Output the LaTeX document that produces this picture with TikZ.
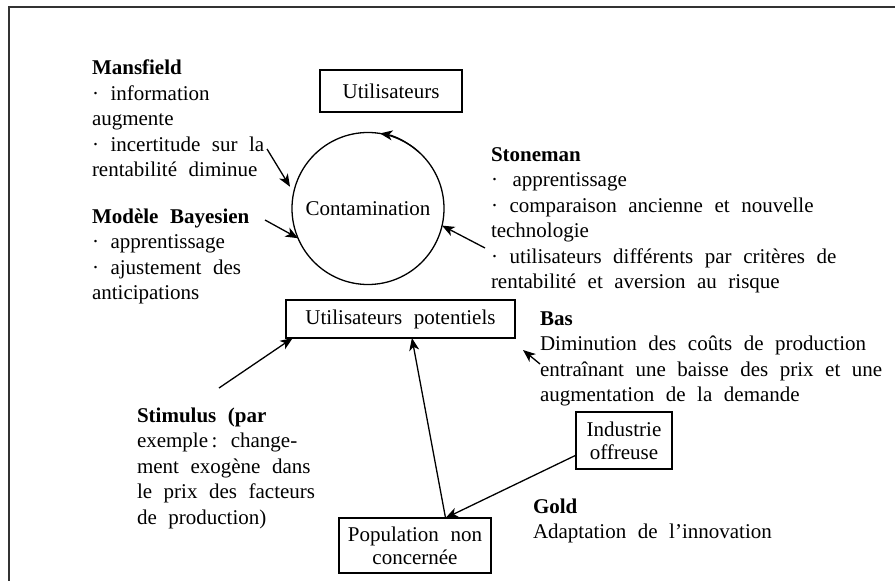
\documentclass[tikz,border=0pt]{standalone}
\usepackage{fontspec}
\setmainfont{Liberation Serif}[WordSpace=2.2]
\usetikzlibrary{arrows.meta,calc}
\begin{document}
\begin{tikzpicture}[x=1pt,y=1pt,
  every node/.style={inner sep=0pt, outer sep=0pt, font=\fontsize{21}{25.5}\selectfont},
  txt/.style={anchor=base west},
  box/.style={draw, line width=1.3pt, align=center, font=\fontsize{21}{23}\selectfont},
  arr/.style={line width=1.3pt, -{Stealth[length=12.5pt,width=10pt,inset=3.5pt]}},
  frame/.style={line width=1.6pt, draw=black!80}]
\useasboundingbox (0,0) rectangle (895,-581);

% partial frame: top and left rules
\draw[frame] (895,-7) -- (9,-7) -- (9,-581);

% boxes and the contamination loop
\node[box, minimum width=142, minimum height=42] (util) at (391,-91) {Utilisateurs};
\node[draw, circle, minimum size=152, line width=1.3pt] (cont) at (368,-208.5) {Contamination};
\node[box, minimum width=229, minimum height=38] (pot) at (400.5,-319) {Utilisateurs potentiels};
\node[box, minimum width=152, minimum height=55] (pop) at (415,-545.5) {Population non\\concernée};
\node[box, minimum width=96, minimum height=57] (ind) at (624,-440.5) {Industrie\\offreuse};

% Mansfield
\node[txt] (mn0) at (92,-74) {\textbf{Mansfield}};
\node[txt] (mn1) at (92,-100) {· information};
\node[txt] (mn2) at (92,-125.5) {augmente};
\node[txt] (mn3) at (92,-151) {· incertitude sur la};
\node[txt] (mn4) at (92,-176.5) {rentabilité diminue};

% Bayesian model
\node[txt] (by0) at (92,-223) {\textbf{Modèle Bayesien}};
\node[txt] (by1) at (92,-248.5) {· apprentissage};
\node[txt] (by2) at (92,-274) {· ajustement des};
\node[txt] (by3) at (92,-299.5) {anticipations};

% Stoneman
\node[txt] (st0) at (491,-161) {\textbf{Stoneman}};
\node[txt] (st1) at (491,-186.5) {·\hspace{3pt} apprentissage};
\node[txt] (st2) at (491,-212) {· comparaison ancienne et nouvelle};
\node[txt] (st3) at (491,-237.5) {technologie};
\node[txt] (st4) at (491,-263) {· utilisateurs différents par critères de};
\node[txt] (st5) at (491,-288.5) {rentabilité et aversion au risque};

% Bas
\node[txt] (bs0) at (540,-325) {\textbf{Bas}};
\node[txt] (bs1) at (540,-350.5) {Diminution des coûts de production};
\node[txt] (bs2) at (540,-376) {entraînant une baisse des prix et une};
\node[txt] (bs3) at (540,-401.5) {augmentation de la demande};

% Gold
\node[txt] (gd0) at (533,-513) {\textbf{Gold}};
\node[txt] (gd1) at (533,-538) {Adaptation de l'innovation};

% Stimulus
\node[txt] (sm0) at (137,-422) {\textbf{Stimulus (par}};
\node[txt] (sm1) at (137,-447.5) {exemple\,: change-};
\node[txt] (sm2) at (137,-473) {ment exogène dans};
\node[txt] (sm3) at (137,-498.5) {le prix des facteurs};
\node[txt] (sm4) at (137,-524) {de production)};

% free ends of the connectors
\coordinate (mansA) at (267,-149);
\coordinate (bayA) at (265,-220);
\coordinate (stoA) at (485,-248);
\coordinate (stimA) at (219,-388);
\coordinate (basA) at (540,-364);
\coordinate (basB) at (523,-350);

% connectors
\draw[arr, shorten >=7pt] (mansA) -- (cont.168);
\draw[arr] (bayA) -- (cont.203);
\draw[arr] (stoA) -- (cont.347);
\draw[arr] (cont.48) arc[start angle=48, end angle=81, radius=76];
\draw[arr] (stimA) -- (pot.190);
\draw[arr] (pop.42) -- (pot.301);
\draw[arr] (ind.197) -- (pop.42);
\draw[arr] (basA) -- (basB);
\end{tikzpicture}
\end{document}
